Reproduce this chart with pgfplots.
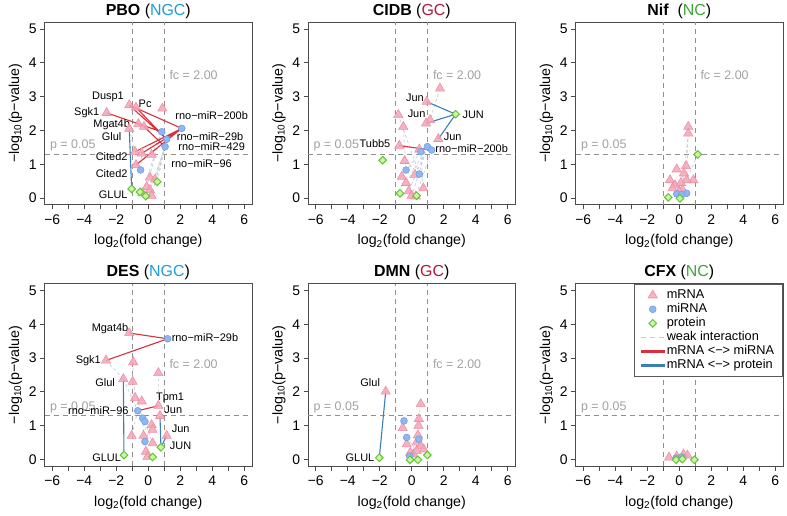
\documentclass[border=0pt]{standalone}
\usepackage{fontspec}
\setmainfont{Liberation Sans}
\setsansfont{Liberation Sans}
\usepackage{pgfplots}
\pgfplotsset{compat=1.18}

\definecolor{ngc}{HTML}{1F9BD7}
\definecolor{gcc}{HTML}{B3163C}
\definecolor{ncc}{HTML}{3FA535}
\definecolor{trifill}{HTML}{F5A5B8}
\definecolor{tridraw}{HTML}{EE8FA5}
\definecolor{cirfill}{HTML}{8FB8F2}
\definecolor{cirdraw}{HTML}{6E9CE8}
\definecolor{diafill}{HTML}{CCF5A3}
\definecolor{diadraw}{HTML}{62C633}
\definecolor{mirline}{HTML}{D7303A}
\definecolor{proline}{HTML}{3C7FB4}
\definecolor{refgray}{HTML}{909090}
\definecolor{weakgray}{HTML}{C6CDD6}

\newcommand{\lbl}{\fontsize{11}{12}\selectfont}

\tikzset{
  reftxt/.style={text=refgray!85, font=\fontsize{12.5}{14}\selectfont},
  gene/.style={font=\lbl},
}

\pgfplotsset{
  vp/.style={
    scale only axis, width=207.4bp, height=182.5bp,
    xmin=-6.48, xmax=6.48, ymin=-0.2, ymax=5.2,
    axis line style={black!70, line width=0.8bp},
    xtick={-6,-4,...,6}, xticklabels={−6,−4,−2,0,2,4,6},
    minor xtick={-5,-3,...,5},
    ytick={0,1,2,3,4,5}, yticklabels={0,1,2,3,4,5},
    tick align=outside, major tick length=4.5bp, minor tick length=4.5bp,
    tick pos=left,
    tick style={black!70, line width=0.8bp},
    ticklabel style={font=\fontsize{14}{16}\selectfont},
    xticklabel style={yshift=-2bp},
    xlabel={log\textsubscript{2}(fold change)},
    ylabel={−log\textsubscript{10}(p−value)},
    label style={font=\fontsize{14.3}{16}\selectfont},
    xlabel style={yshift=-3bp},
    title style={font=\fontsize{16}{18}\selectfont, yshift=-6bp},
    unbounded coords=jump,
  },
  refline/.style={refgray, dash pattern=on 5bp off 4bp, line width=0.9bp, forget plot},
  weak/.style={weakgray, dash pattern=on 3bp off 2.5bp, line width=0.7bp, forget plot},
  mrna/.style={only marks, mark=triangle*, mark size=5.3bp,
    mark options={fill=trifill, draw=tridraw, line width=0.6bp, fill opacity=0.85}},
  mirna/.style={only marks, mark=*, mark size=3.4bp,
    mark options={fill=cirfill, draw=cirdraw, line width=0.6bp}},
  prot/.style={only marks, mark=square*, mark size=2.7bp,
    mark options={rotate=45, fill=diafill, draw=diadraw, line width=1bp}},
  strmir/.style={mirline, line width=1.1bp, forget plot},
  strpro/.style={proline, line width=1.1bp, forget plot},
}

\newcommand{\refs}[1]{%
  \addplot[refline] coordinates {(-1,-0.2) (-1,5.2)};
  \addplot[refline] coordinates {(1,-0.2) (1,5.2)};
  \addplot[refline] coordinates {(-6.48,1.301) (6.48,1.301)};
  \node[reftxt] at (axis cs:-4.72,1.55) {p = 0.05};
  \node[reftxt] at (axis cs:2.83,#1) {fc = 2.00};
}

\begin{document}
\begin{tikzpicture}
\useasboundingbox (0,0) rectangle (787bp,516bp);

% ---------------- PBO ----------------
\begin{axis}[vp, at={(44.6bp,311.2bp)}, anchor=south west,
  title={\textbf{PBO} ({\color{ngc}NGC})}]
\refs{3.65}
\addplot[weak] coordinates {(1.05,1.52) (0.1,0.24) (nan,nan) (1.05,1.52) (0.2,0.07) (nan,nan)
  (1.15,1.74) (0.42,0.55) (nan,nan) (0.84,1.96) (-0.1,0.33) (nan,nan) (1.05,1.52) (0.56,0.48) (nan,nan)
  (0.84,1.96) (-0.37,0.15) (nan,nan) (-1.19,2.05) (-0.83,1.37) (nan,nan) (0.21,1.28) (0.84,1.96)
  (nan,nan) (-0.48,0.83) (-0.41,1.32)};
\addplot[mrna] coordinates {(-1.19,2.75) (-0.77,2.68) (0.88,2.65) (-2.6,2.52) (-0.62,2.19)
  (-0.27,2.11) (-1.19,2.05) (-0.83,1.37) (-0.41,1.32) (0.21,1.28) (-0.77,0.98)
  (0.1,0.61) (0.42,0.55) (-0.1,0.33) (0.1,0.24) (-0.37,0.15) (0.2,0.07)};
\addplot[mirna] coordinates {(2.09,2.06) (0.84,1.96) (1.15,1.74) (1.05,1.52) (-0.48,0.83)};
\addplot[prot] coordinates {(0.56,0.48) (-1.04,0.27) (-0.52,0.18) (-0.16,0.06)};
\addplot[strmir] coordinates {(-1.19,2.75) (2.09,2.06) (nan,nan) (-1.19,2.75) (1.15,1.74) (nan,nan)
  (-0.77,2.68) (1.15,1.74) (nan,nan) (-2.6,2.52) (0.84,1.96) (nan,nan) (-0.62,2.19) (0.84,1.96) (nan,nan)
  (-0.27,2.11) (1.05,1.52) (nan,nan) (-0.83,1.37) (2.09,2.06) (nan,nan) (-0.41,1.32) (2.09,2.06) (nan,nan)
  (-0.77,0.98) (2.09,2.06)};
\addplot[strpro] coordinates {(-1.19,2.05) (-1.04,0.27)};
\node[gene] at (axis cs:-2.52,2.99) {Dusp1};
\node[gene] at (axis cs:-0.2,2.78) {Pc};
\node[gene] at (axis cs:-3.85,2.52) {Sgk1};
\node[gene] at (axis cs:-2.29,2.16) {Mgat4b};
\node[gene] at (axis cs:-2.29,1.81) {Glul};
\node[gene] at (axis cs:-2.29,1.24) {Cited2};
\node[gene] at (axis cs:-2.29,0.73) {Cited2};
\node[gene] at (axis cs:-2.19,0.11) {GLUL};
\node[gene] at (axis cs:3.96,2.43) {rno−miR−200b};
\node[gene] at (axis cs:3.86,1.82) {rno−miR−29b};
\node[gene] at (axis cs:3.96,1.52) {rno−miR−429};
\node[gene] at (axis cs:3.33,1.03) {rno−miR−96};
\end{axis}

% ---------------- CIDB ----------------
\begin{axis}[vp, at={(308.1bp,311.2bp)}, anchor=south west,
  title={\textbf{CIDB} ({\color{gcc}GC})}]
\refs{3.65}
\addplot[weak] coordinates {(0.97,1.52) (-0.19,0.2) (nan,nan) (0.97,1.52) (0.0,0.07) (nan,nan)
  (1.24,1.42) (0.25,0.05) (nan,nan) (0.56,1.37) (-0.63,0.63) (nan,nan) (0.47,0.71) (-0.84,2.46) (nan,nan)
  (-0.36,0.83) (-0.53,2.11) (nan,nan) (0.56,1.37) (0.72,0.29) (nan,nan) (0.97,1.52) (-0.36,0.45) (nan,nan)
  (1.76,3.24) (1.14,2.31) (nan,nan) (0.47,0.71) (-0.45,1.1)};
\addplot[mrna] coordinates {(1.76,3.24) (0.93,2.85) (-0.84,2.46) (1.14,2.31) (0.89,2.21) (-0.53,2.11)
  (1.66,1.75) (-0.78,1.55) (0.47,1.44) (-0.45,1.1) (-0.63,0.63) (-0.36,0.45) (0.2,0.69)
  (0.72,0.29) (-0.19,0.2) (0.0,0.07) (0.25,0.05)};
\addplot[mirna] coordinates {(0.97,1.52) (1.24,1.42) (0.56,1.37) (-0.36,0.83) (0.47,0.71)};
\addplot[prot] coordinates {(2.74,2.48) (-1.82,1.12) (-0.74,0.14) (0.3,0.07)};
\addplot[strmir] coordinates {(-0.78,1.55) (1.24,1.42)};
\addplot[strpro] coordinates {(0.93,2.85) (2.74,2.48) (nan,nan) (0.89,2.21) (2.74,2.48) (nan,nan)
  (1.66,1.75) (2.74,2.48)};
\node[gene] at (axis cs:0.2,2.98) {Jun};
\node[gene] at (axis cs:0.3,2.49) {Jun};
\node[gene] at (axis cs:3.84,2.46) {JUN};
\node[gene] at (axis cs:2.55,1.80) {Jun};
\node[gene] at (axis cs:-2.3,1.60) {Tubb5};
\node[gene] at (axis cs:3.74,1.45) {rno−miR−200b};
\end{axis}

% ---------------- Nif ----------------
\begin{axis}[vp, at={(575.6bp,311.2bp)}, anchor=south west,
  title={\textbf{Nif}\ \ ({\color{ncc}NC})}]
\refs{3.65}
\addplot[weak] coordinates {(0.56,1.91) (0.46,0.53) (nan,nan) (1.15,1.29) (0.46,0.53) (nan,nan)
  (0.56,1.91) (0.15,0.1) (nan,nan) (0.42,0.95) (-0.16,0.12)};
\addplot[mrna] coordinates {(0.56,2.11) (0.56,1.91) (0.42,0.95) (-0.16,0.85) (0.29,0.73) (-0.58,0.53)
  (0.88,0.53) (0.46,0.53) (-0.27,0.38) (0.1,0.45) (0.2,0.25) (-0.42,0.29) (0.0,0.2)};
\addplot[mirna] coordinates {(-0.16,0.12) (0.46,0.14) (0.15,0.1)};
\addplot[prot] coordinates {(1.15,1.29) (-0.69,0.02) (0.04,-0.01)};
\end{axis}

% ---------------- DES ----------------
\begin{axis}[vp, at={(44.6bp,49.8bp)}, anchor=south west,
  title={\textbf{DES} ({\color{ngc}NGC})}]
\refs{2.83}
\addplot[weak] coordinates {(-2.64,2.93) (-1.56,2.38) (nan,nan) (-0.98,2.3) (-0.35,1.22) (nan,nan)
  (-0.94,2.88) (-0.98,2.3) (nan,nan) (0.63,2.56) (0.63,1.59) (nan,nan) (-0.66,1.44) (-1.04,0.70) (nan,nan)
  (-0.21,1.12) (0.27,0.48) (nan,nan) (-0.21,1.12) (-0.15,0.23) (nan,nan) (-0.35,1.22) (-0.3,0.70) (nan,nan)
  (-1.56,2.38) (-0.66,1.44) (nan,nan) (-0.21,0.53) (0.21,1.02)};
\addplot[mrna] coordinates {(-1.19,3.74) (-2.64,2.93) (-0.94,2.88) (0.63,2.56) (-1.56,2.38) (-0.98,2.3)
  (-0.83,1.82) (-0.41,1.72) (0.63,1.59) (0.73,1.29) (0.21,1.02) (0.27,0.88) (-1.04,0.70)
  (-0.3,0.70) (1.15,0.70) (0.27,0.48) (-0.15,0.23) (-0.05,0.08)};
\addplot[mirna] coordinates {(1.21,3.57) (-0.66,1.44) (-0.35,1.22) (-0.21,1.12) (-0.21,0.53)};
\addplot[prot] coordinates {(0.79,0.36) (-1.52,0.13) (0.27,0.07)};
\addplot[strmir] coordinates {(-1.19,3.74) (1.21,3.57) (nan,nan) (-2.64,2.93) (1.21,3.57) (nan,nan)
  (-0.66,1.44) (0.63,1.59)};
\addplot[strpro] coordinates {(-1.56,2.38) (-1.52,0.13) (nan,nan) (0.73,1.29) (0.79,0.36) (nan,nan)
  (1.15,0.70) (0.79,0.36)};
\node[gene] at (axis cs:-2.39,3.87) {Mgat4b};
\node[gene] at (axis cs:3.54,3.60) {rno−miR−29b};
\node[gene] at (axis cs:-3.75,2.92) {Sgk1};
\node[gene] at (axis cs:-2.7,2.26) {Glul};
\node[gene] at (axis cs:1.36,1.83) {Tpm1};
\node[gene] at (axis cs:1.56,1.47) {Jun};
\node[gene] at (axis cs:-3.12,1.44) {rno−miR−96};
\node[gene] at (axis cs:2.02,0.90) {Jun};
\node[gene] at (axis cs:2.02,0.41) {JUN};
\node[gene] at (axis cs:-2.6,0.04) {GLUL};
\end{axis}

% ---------------- DMN ----------------
\begin{axis}[vp, at={(308.1bp,49.8bp)}, anchor=south west,
  title={\textbf{DMN} ({\color{gcc}GC})}]
\refs{2.83}
\addplot[weak] coordinates {(0.56,1.64) (0.44,1.2) (nan,nan) (-0.49,1.14) (-0.57,0.93) (nan,nan)
  (0.44,0.6) (0.1,0.15) (nan,nan) (-0.32,0.65) (0.3,0.25)};
\addplot[mrna] coordinates {(-1.63,2.01) (0.56,1.64) (0.44,1.2) (-0.57,0.93) (0.42,1.0) (0.38,0.72)
  (-0.32,0.45) (0.3,0.5) (0.56,0.4) (0.75,0.3) (-0.1,0.2) (0.1,0.15) (0.3,0.25)};
\addplot[mirna] coordinates {(-0.49,1.14) (-0.32,0.65) (0.44,0.6) (-0.13,0.1)};
\addplot[prot] coordinates {(-2.03,0.05) (-0.11,-0.01) (0.38,-0.01) (0.97,0.13)};
\addplot[strpro] coordinates {(-1.63,2.01) (-2.03,0.05)};
\node[gene] at (axis cs:-2.6,2.26) {Glul};
\node[gene] at (axis cs:-3.24,0.04) {GLUL};
\end{axis}

% ---------------- CFX ----------------
\begin{axis}[vp, at={(575.6bp,49.8bp)}, anchor=south west,
  title={\textbf{CFX} ({\color{ncc}NC})},
  legend style={at={(1,1)}, anchor=north east, draw=black!65, fill=white,
    line width=0.8bp, font=\fontsize{12.8}{13}\selectfont, row sep=-2.4bp,
    inner xsep=6.5bp, inner ysep=3bp,
    nodes={inner ysep=2.5bp, text height=8.8bp, text depth=2.6bp}},
  legend cell align=left,
  legend image code/.code={\draw[mark repeat=2, mark phase=2, #1]
    plot coordinates {(0bp,0bp) (11.5bp,0bp) (23bp,0bp)};},
  legend entries={mRNA, miRNA, protein, weak interaction, mRNA <−> miRNA, mRNA <−> protein}]
\addlegendimage{mrna}
\addlegendimage{mirna}
\addlegendimage{prot}
\addlegendimage{weakgray, dash pattern=on 5bp off 4bp, line width=1bp}
\addlegendimage{legend image code/.code={\fill[mirline] (0bp,-0.85bp) rectangle (23bp,0.85bp);}}
\addlegendimage{legend image code/.code={\fill[proline] (0bp,-0.85bp) rectangle (23bp,0.85bp);}}
\addplot[refline] coordinates {(-1,-0.2) (-1,5.2)};
\addplot[refline] coordinates {(1,-0.2) (1,5.2)};
\addplot[refline] coordinates {(-6.48,1.301) (6.48,1.301)};
\node[reftxt] at (axis cs:-4.72,1.55) {p = 0.05};
\addplot[mrna, forget plot] coordinates {(-0.64,0.06) (-0.16,0.09) (0.26,0.15) (0.51,0.12)};
\addplot[mirna, forget plot] coordinates {(-0.2,0.04) (0.15,0.07)};
\addplot[prot, forget plot] coordinates {(-0.2,-0.01) (0.19,0.01) (0.94,-0.01)};
\end{axis}
\end{tikzpicture}
\end{document}
